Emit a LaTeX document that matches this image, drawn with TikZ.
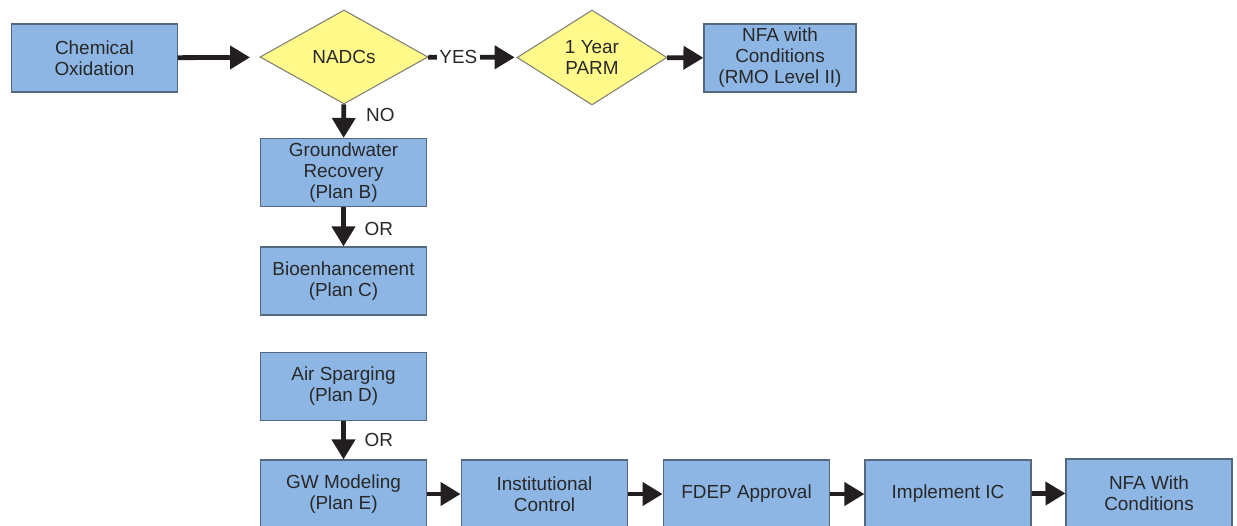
\documentclass[tikz,border=0pt]{standalone}
\usepackage{fontspec}
\setmainfont{Liberation Sans}
\usepackage{xcolor}
\usepackage{tikz}
\usetikzlibrary{positioning}
\usetikzlibrary{shapes.geometric}
\usetikzlibrary{arrows.meta}

\definecolor{boxblue}{RGB}{141,182,228}
\definecolor{boxline}{RGB}{84,104,128}
\definecolor{diayellow}{RGB}{255,250,138}
\definecolor{dialine}{RGB}{128,128,118}
\definecolor{txtgray}{RGB}{40,40,40}
\definecolor{arrowblack}{RGB}{35,31,32}

\tikzset{
  plan/.style={draw=boxline, line width=0.8pt, fill=boxblue, text=txtgray,
    align=center, inner sep=0pt, minimum height=51pt,
    font=\fontsize{14.2}{15.8}\selectfont},
  check/.style={diamond, draw=dialine, line width=0.8pt, fill=diayellow, text=txtgray,
    align=center, inner sep=0pt, font=\fontsize{14.2}{15.8}\selectfont},
  flow/.style={draw=arrowblack, line width=3.6pt,
    -{Triangle[length=15pt,width=17pt]}},
  lbl/.style={text=txtgray, inner sep=0pt, font=\fontsize{14.2}{15.8}\selectfont}
}

\begin{document}
\begin{tikzpicture}[x=0.75pt,y=-0.75pt]
\clip (0,0) rectangle (1237,525);
\fill[white] (0,0) rectangle (1237,525);

% top row
\node[plan, minimum width=124pt] (chem) at (94.5,58) {Chemical\\Oxidation};
\node[check, minimum width=126pt, minimum height=70.5pt] (nadc) at (344,57) {NADCs};
\node[check, minimum width=112.5pt, minimum height=71.25pt] (parm) at (592,57.5) {1 Year\\PARM};
\node[plan, minimum width=114pt] (nfa) at (780,58) {NFA with\\Conditions\\(RMO Level II)};

% plans B to E
\node[plan, minimum width=125pt] (gwr) at (343.5,172.5) {Groundwater\\Recovery\\(Plan B)};
\node[plan, minimum width=125pt] (bio) at (343.5,281) {Bioenhancement\\(Plan C)};
\node[plan, minimum width=125pt] (air) at (343.5,386.5) {Air Sparging\\(Plan D)};
\node[plan, minimum width=125pt] (gwm) at (343.5,494) {GW Modeling\\(Plan E)};

% bottom row
\node[plan, minimum width=125pt] (inst) at (544.5,494) {Institutional\\Control};
\node[plan, minimum width=125pt] (fdep) at (746.5,494) {FDEP Approval};
\node[plan, minimum width=124.5pt] (impl) at (948,494) {Implement IC};
\node[plan, minimum width=124.5pt] (nfaw) at (1149,493) {NFA With\\Conditions};

\draw[flow, shorten >=7.5pt] (chem) -- (nadc);
\draw[flow, shorten >=1.5pt] (nadc) -- node[lbl, pos=.34, fill=white, inner xsep=2pt] {YES} (parm);
\draw[flow] (parm) -- (nfa);

\draw[flow] (nadc) -- node[lbl, pos=.3, anchor=west, xshift=15pt] {NO} (gwr);
\draw[flow] (gwr) -- node[lbl, pos=.55, anchor=west, xshift=14pt] {OR} (bio);
\draw[flow] (air) -- node[lbl, pos=.5, anchor=west, xshift=14pt] {OR} (gwm);

\draw[flow] (gwm) -- (inst);
\draw[flow] (inst) -- (fdep);
\draw[flow] (fdep) -- (impl);
\draw[flow] (impl) -- (nfaw);
\end{tikzpicture}
\end{document}
